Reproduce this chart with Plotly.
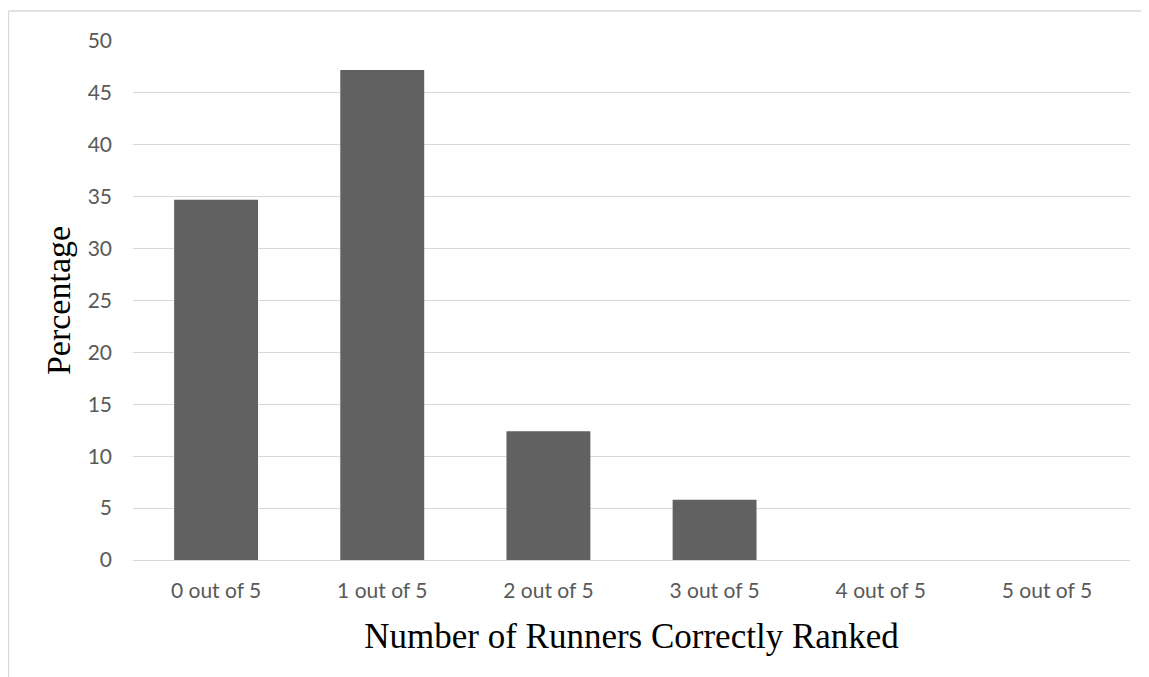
import plotly.graph_objects as go

categories = ["0 out of 5", "1 out of 5", "2 out of 5", "3 out of 5", "4 out of 5", "5 out of 5"]
percentages = [34.7, 47.2, 12.4, 5.8, 0, 0]
y_ticks = [0, 5, 10, 15, 20, 25, 30, 35, 40, 45, 50]

# page body has an 8px margin, so the figure is drawn 8px in from the window edge
W, H = 1141, 669
ml, mr, mt, mb = 125, 19, 33, 117
pw, ph = W - ml - mr, H - mt - mb

def px_to_paper_x(px):
    return (px - ml) / pw

def px_to_paper_y(py):
    return (H - mb - py) / ph

fig = go.Figure(go.Bar(
    x=categories,
    y=percentages,
    marker=dict(color="#616161", line=dict(width=0)),
    width=0.505,
))

fig.update_layout(
    width=W, height=H,
    margin=dict(l=ml, r=mr, t=mt, b=mb),
    paper_bgcolor="white",
    plot_bgcolor="white",
    showlegend=False,
    xaxis=dict(
        title=dict(text="Number of Runners Correctly Ranked",
                   font=dict(family="Liberation Serif", size=35, color="black"),
                   standoff=22),
        tickfont=dict(family="Lato", size=21, color="#595959"),
        showgrid=False,
        showline=False,
        ticks="",
        ticklabelstandoff=16,
    ),
    yaxis=dict(
        title=dict(text="Percentage",
                   font=dict(family="Liberation Serif", size=34, color="black"),
                   standoff=6),
        range=[0, 50],
        tickvals=y_ticks,
        tickfont=dict(family="Lato", size=21, color="#595959"),
        showgrid=True,
        gridcolor="#d9d9d9",
        gridwidth=1.3,
        zeroline=True,
        zerolinecolor="#d9d9d9",
        zerolinewidth=1.3,
        showline=False,
        ticks="",
        ticklabelstandoff=20,
    ),
    shapes=[
        dict(type="line", xref="paper", yref="paper",
             x0=px_to_paper_x(0.5), x1=px_to_paper_x(W),
             y0=px_to_paper_y(3), y1=px_to_paper_y(3),
             line=dict(color="#d9d9d9", width=1.3)),
        dict(type="line", xref="paper", yref="paper",
             x0=px_to_paper_x(0.5), x1=px_to_paper_x(0.5),
             y0=px_to_paper_y(3), y1=px_to_paper_y(H),
             line=dict(color="#d9d9d9", width=1.3)),
    ],
)

fig.write_html("out.html")
